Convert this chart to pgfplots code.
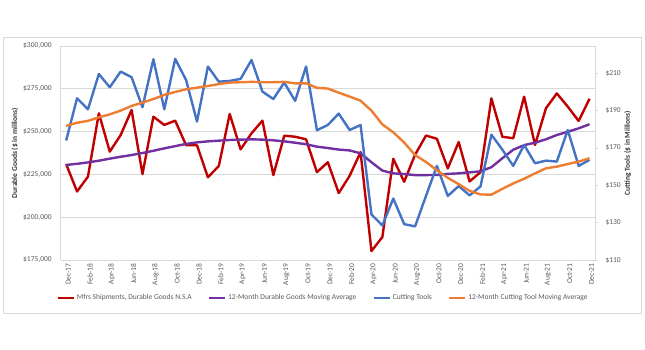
\documentclass[border=0pt]{standalone}
\usepackage{pgfplots}
\usepackage{pgfplotstable}
\pgfplotsset{compat=1.18}
\usepackage{fontspec}
\setmainfont{Carlito}
\definecolor{cred}{RGB}{192,0,0}
\definecolor{cpurple}{RGB}{112,48,160}
\definecolor{cblue}{RGB}{68,114,196}
\definecolor{corange}{RGB}{237,125,49}
\definecolor{txtgray}{RGB}{89,89,89}
\definecolor{gridgray}{RGB}{217,217,217}

\pgfplotstableread{
i red purple blue orange
0 231000 230500 174.0 181.8
1 215000 231200 196.6 183.5
2 223700 232000 190.7 184.5
3 260700 233000 209.6 186.4
4 238300 234200 202.5 188.0
5 248000 235300 210.9 190.0
6 262600 236300 207.9 192.5
7 225200 237500 191.8 194.3
8 258700 238800 217.5 196.2
9 253900 240200 190.7 198.4
10 256400 241500 217.7 200.0
11 242000 242800 206.4 201.4
12 242000 243700 184.1 202.3
13 223300 244300 213.6 203.2
14 229900 244700 205.5 204.2
15 260300 245100 205.9 205.0
16 239600 245300 207.0 205.2
17 249000 245500 217.1 205.4
18 256400 245300 200.2 205.2
19 224600 244900 196.2 205.2
20 247600 244300 205.0 205.4
21 247000 243500 195.2 204.6
22 245500 242600 213.6 204.6
23 226300 241200 179.5 202.2
24 232100 240400 182.3 201.8
25 214100 239500 188.4 199.6
26 224200 239000 179.6 197.5
27 238000 237300 182.3 195.3
28 180200 232100 134.4 190.0
29 188400 227200 128.5 182.6
30 234100 225600 142.9 178.4
31 220700 225200 129.2 172.9
32 236500 224600 128.0 166.2
33 247700 224600 144.3 162.5
34 245800 224700 160.4 158.0
35 228500 225300 144.3 154.0
36 243900 225600 149.6 150.6
37 220900 226200 144.6 147.0
38 226300 226800 149.4 145.1
39 269400 229200 177.1 145.0
40 247000 234400 169.1 148.1
41 246100 239400 160.4 151.0
42 270400 242100 171.6 153.5
43 242200 243500 161.8 156.4
44 263600 245500 163.2 159.1
45 272300 248000 162.7 160.0
46 264600 249900 179.6 161.4
47 256200 251900 160.4 162.7
48 269200 254300 163.6 164.5
}\datatable

\begin{document}
\begin{tikzpicture}
\path[use as bounding box] (0,0) rectangle (645pt,350pt);
\draw[gridgray, line width=0.8pt] (3pt,37pt) rectangle (641pt,313pt);
\begin{axis}[
  at={(60.7pt,90pt)}, anchor=south west, scale only axis,
  width=534.3pt, height=214pt,
  xmin=-0.5, xmax=48.5, ymin=175000, ymax=300000,
  scaled y ticks=false,
  axis x line*=bottom, axis y line*=left,
  axis line style={gridgray, line width=0.8pt},
  ymajorgrids, grid style={gridgray, line width=0.8pt},
  major tick length=0pt,
  ytick={175000,200000,225000,250000,275000,300000},
  yticklabels={{\$175,000},{\$200,000},{\$225,000},{\$250,000},{\$275,000},{\$300,000}},
  xtick={0,2,...,48},
  xticklabels={Dec-17,Feb-18,Apr-18,Jun-18,Aug-18,Oct-18,Dec-18,Feb-19,Apr-19,Jun-19,Aug-19,Oct-19,Dec-19,Feb-20,Apr-20,Jun-20,Aug-20,Oct-20,Dec-20,Feb-21,Apr-21,Jun-21,Aug-21,Oct-21,Dec-21},
  ticklabel style={font=\fontsize{7.5}{9}\selectfont, text=txtgray},
  x tick label style={rotate=90, anchor=east, yshift=-2pt},
  y tick label style={xshift=-5.5pt},
  ylabel={Durable Goods (\$ in millions)},
  ylabel style={at={(axis description cs:-0.0855,0.5)}, anchor=center, font=\bfseries\fontsize{7.5}{9}\selectfont, text=black!80},
]
\addplot[cred, line width=2.4pt, line join=round] table[x=i,y=red] {\datatable};
\addplot[cpurple, line width=2.4pt, line join=round] table[x=i,y=purple] {\datatable};
\end{axis}
\begin{axis}[
  at={(60.7pt,90pt)}, anchor=south west, scale only axis,
  width=534.3pt, height=214pt,
  xmin=-0.5, xmax=48.5, ymin=110, ymax=224.6,
  axis x line=none, axis y line*=right,
  axis line style={gridgray, line width=0.8pt},
  tick style={gridgray, line width=0.8pt},
  major tick length=3pt, tick align=outside,
  ytick={110,130,150,170,190,210},
  yticklabels={{\$110},{\$130},{\$150},{\$170},{\$190},{\$210}},
  ticklabel style={font=\fontsize{7.5}{9}\selectfont, text=txtgray},
  y tick label style={xshift=4pt},
  ylabel={Cutting Tools (\$ in Millions)},
  ylabel style={at={(axis description cs:1.0612,0.5)}, anchor=center, rotate=0, font=\bfseries\fontsize{7.5}{9}\selectfont, text=black!80},
  legend style={at={(0.491,-0.178)}, anchor=center, draw=none, fill=none,
    legend columns=4, font=\fontsize{7.5}{9}\selectfont, text=txtgray,
    /tikz/every even column/.append style={column sep=14pt}},
  legend image code/.code={\draw[#1] (0pt,0pt) -- (16pt,0pt);},
]
\addlegendimage{cred, line width=2.4pt}
\addlegendentry{Mfrs Shipments, Durable Goods N.S.A}
\addlegendimage{cpurple, line width=2.4pt}
\addlegendentry{12-Month Durable Goods Moving Average}
\addplot[cblue, line width=2.4pt, line join=round] table[x=i,y=blue] {\datatable};
\addlegendentry{Cutting Tools}
\addplot[corange, line width=2.4pt, line join=round] table[x=i,y=orange] {\datatable};
\addlegendentry{12-Month Cutting Tool Moving Average}
\end{axis}
\end{tikzpicture}
\end{document}
